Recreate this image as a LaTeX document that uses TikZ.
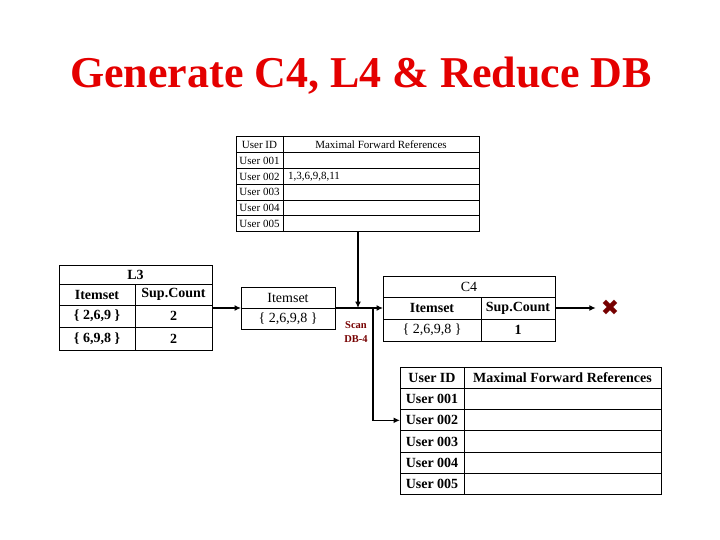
\documentclass[tikz,border=0pt]{standalone}
\usepackage{fontspec}
\setmainfont{Liberation Serif}
\newfontfamily\djv{DejaVu Sans}
\usetikzlibrary{arrows.meta}
\definecolor{titlered}{RGB}{228,0,0}
\definecolor{darkmaroon}{RGB}{118,0,0}
\begin{document}
\begin{tikzpicture}[x=1pt,y=-1pt,
  cell/.style={draw, line width=1pt, inner sep=0pt, outer sep=0pt, anchor=north west},
  small/.style={font=\fontsize{11}{12}\selectfont},
  big/.style={font=\fontsize{14}{16}\selectfont},
  bigb/.style={font=\fontsize{14}{16}\selectfont\bfseries},
  arr/.style={line width=1.3pt, -{Latex[length=6.5pt,width=6pt]}}]
\useasboundingbox (0,0) rectangle (720,540);

% title
\node[font=\fontsize{44}{50}\selectfont\bfseries, text=titlered, anchor=base, inner sep=0pt] (title) at (361,88) {Generate C4, L4 \& Reduce DB};

% top table
\node[cell, small, minimum width=47pt, minimum height=15.8pt] (th1) at (236,137) {User ID};
\node[cell, small, minimum width=196pt, minimum height=15.8pt] (th2) at (283,137) {Maximal Forward References};
\foreach \n/\v [count=\k] in {001/{},002/{1,3,6,9,8,11},003/{},004/{},005/{}} {
  \node[cell, small, minimum width=47pt, minimum height=15.8pt] (tu\k) at (236,{137+\k*15.8}) {User \n};
  \node[cell, small, minimum width=196pt, minimum height=15.8pt, text width=186pt, align=left] (tv\k) at (283,{137+\k*15.8}) {\v};
}

% L3 table
\node[cell, bigb, minimum width=153pt, minimum height=19pt] (l3t) at (59,265) {L3};
\node[cell, bigb, minimum width=76pt, minimum height=21pt] (l3h1) at (59,284) {Itemset};
\node[cell, bigb, minimum width=77pt, minimum height=21pt] (l3h2) at (135,284) {Sup.Count};
\node[cell, bigb, minimum width=76pt, minimum height=22pt] (l3a1) at (59,305) {\{ 2,6,9 \}};
\node[cell, bigb, minimum width=77pt, minimum height=22pt] (l3b1) at (135,305) {2};
\node[cell, bigb, minimum width=76pt, minimum height=23pt] (l3a2) at (59,327) {\{ 6,9,8 \}};
\node[cell, bigb, minimum width=77pt, minimum height=23pt] (l3b2) at (135,327) {2};

% Itemset box
\node[cell, big, minimum width=94pt, minimum height=21pt] (ib1) at (241,287) {Itemset};
\node[cell, big, minimum width=94pt, minimum height=21pt] (ib2) at (241,308) {\{ 2,6,9,8 \}};

% C4 table
\node[cell, big, minimum width=172pt, minimum height=21pt] (c4t) at (383,276) {C4};
\node[cell, bigb, minimum width=98pt, minimum height=22pt] (c4h1) at (383,297) {Itemset};
\node[cell, bigb, minimum width=74pt, minimum height=22pt] (c4h2) at (481,297) {Sup.Count};
\node[cell, big, minimum width=98pt, minimum height=22pt] (c4a) at (383,319) {\{ 2,6,9,8 \}};
\node[cell, bigb, minimum width=74pt, minimum height=22pt] (c4b) at (481,319) {1};

% bottom table
\node[cell, bigb, minimum width=64pt, minimum height=21.33pt] (bh1) at (400,367) {User ID};
\node[cell, bigb, minimum width=197pt, minimum height=21.33pt] (bh2) at (464,367) {Maximal Forward References};
\foreach \k in {1,...,5} {
  \node[cell, bigb, minimum width=64pt, minimum height=21.33pt] (bu\k) at (400,{367+\k*21.33}) {User 00\k};
  \node[cell, bigb, minimum width=197pt, minimum height=21.33pt] (bv\k) at (464,{367+\k*21.33}) {};
}

% scan label and reject mark
\node[font=\fontsize{10.5}{14}\selectfont\bfseries, text=darkmaroon, align=center] (scan) at (356,332) {Scan\\DB-4};
\node[font=\djv\fontsize{22}{22}\selectfont, text=darkmaroon, inner sep=0pt, outer sep=5pt] (xm) at (610,308) {✖};

% connectors
\coordinate (j) at (358,308);
\coordinate (b) at (373,308);
\draw[arr] (l3b1.east |- ib1.south west) -- (ib1.south west);
\draw[arr] (ib1.south east) -- (c4h1.west);
\draw[arr] (tv5.south -| j) -- (j);
\draw[arr] (b) |- (bu2.west);
\draw[arr] (c4h2.east) -- (c4h2.east -| xm.west);
\end{tikzpicture}
\end{document}
